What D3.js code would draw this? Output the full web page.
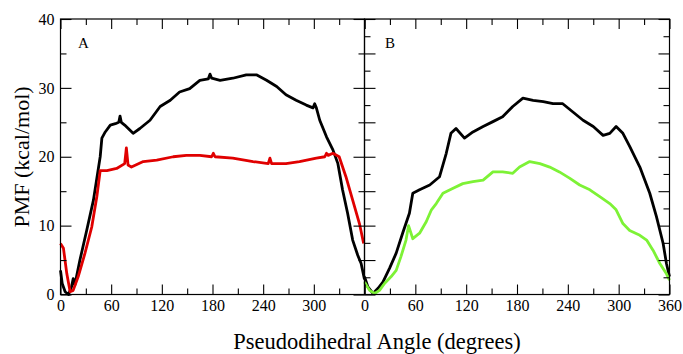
<!DOCTYPE html>
<html>
<head>
<meta charset="utf-8">
<script src="https://cdn.jsdelivr.net/npm/d3@7"></script>
<style>
  body { margin: 0; background: #fff; }
  svg { display: block; font-family: "Liberation Serif", "DejaVu Serif", serif; }
</style>
</head>
<body>
<div id="chart"></div>
<script>
// panel A, black curve
var angleA1 = [0, 2, 5.5, 9.5, 13, 15, 17, 23, 31, 39, 47, 49, 53, 59, 65, 69, 70.5, 72, 76, 86, 94, 106, 118, 130, 141, 153, 165, 175, 177, 179, 189, 204, 220, 232, 244, 256, 267, 279, 291, 299, 301, 303, 307, 315, 322.6, 328.5, 334, 340, 346, 352, 356, 360];
var pmfA1   = [3.5, 1.6, 0.4, 0, 1.1, 2.3, 1.4, 5, 9.3, 13.7, 20, 22.7, 23.6, 24.6, 24.8, 25, 25.9, 25, 24.6, 23.4, 24.1, 25.3, 27.3, 28.2, 29.4, 29.9, 31.1, 31.3, 32.0, 31.4, 31.1, 31.4, 31.9, 31.9, 31.1, 30.2, 29, 28.2, 27.5, 27.1, 27.7, 27.1, 25.3, 22.9, 21, 19, 15.2, 11.8, 7.9, 5.7, 4.5, 2.2];
// panel A, red curve
var angleA2 = [0, 3.5, 7.5, 11.4, 15, 21, 29, 37, 43, 47, 55, 66.5, 76, 78, 80, 84, 98, 114, 133.5, 149, 165, 179, 181, 183, 204, 228, 246, 248, 250, 267, 283, 303, 313, 315, 317, 322.6, 330, 338, 346, 354, 359];
var pmfA2   = [7.4, 6.7, 3, 0.4, 0.6, 2.6, 6, 9.8, 14.2, 18, 18, 18.3, 19, 21.3, 18.8, 18.5, 19.3, 19.5, 20, 20.2, 20.2, 20, 20.5, 20, 19.8, 19.3, 19, 19.8, 19, 19, 19.3, 19.8, 20, 20.5, 20.2, 20.5, 20, 17.1, 13.7, 10.3, 7.4];
// panel B, black curve
var angleB1 = [0, 4, 10, 16, 21.7, 29.5, 37.4, 45, 53, 57, 65, 77, 88.6, 96.5, 102, 108, 118, 128, 140, 151.6, 163, 175, 187, 199, 211, 222.5, 234, 246, 258, 270, 281.6, 289.5, 297, 305, 313, 325, 336.7, 344.6, 352.5, 356.4, 360];
var pmfB1   = [2.6, 1.1, 0.15, 0.9, 1.8, 3.8, 6, 8.9, 11.8, 14.7, 15.2, 15.9, 17.1, 20.5, 23.4, 24.1, 22.7, 23.6, 24.4, 25.1, 25.8, 27.3, 28.5, 28.2, 28, 27.7, 27.7, 26.5, 25.3, 24.4, 23.1, 23.4, 24.4, 23.4, 21.5, 18.5, 14.7, 11.3, 7.4, 4.5, 2.6];
// panel B, green curve
var angleB2 = [0, 6, 12, 17.7, 23.6, 31.5, 37.4, 43, 49, 52, 57, 65, 73, 79, 84.7, 92.6, 104, 116, 128, 140, 151.6, 163, 175, 183, 195, 207, 218.6, 230, 242, 254, 266, 277.7, 289.5, 297, 305, 313, 325, 333, 340.7, 348.6, 356.4, 360];
var pmfB2   = [1.8, 0.6, 0.15, 0.6, 1.6, 2.6, 3.5, 5.5, 7.9, 10.0, 8.1, 8.9, 10.6, 12.3, 13.2, 14.7, 15.4, 16.1, 16.4, 16.6, 17.8, 17.8, 17.6, 18.5, 19.3, 19, 18.5, 17.8, 16.9, 15.9, 15.2, 14.2, 13.2, 12.3, 10.3, 9.3, 8.6, 7.9, 6.4, 4.5, 3, 2.1];

var xTicksMajor = [0, 60, 120, 180, 240, 300, 360];
var xTicksMinor = [30, 90, 150, 210, 270, 330];
var yTicksA = [0, 10, 20, 30, 40];
var yTicksAMinor = [5, 15, 25, 35];
var yTicksB = [0, 5, 10, 15, 20, 25, 30, 35, 40];
var yTicksBMinor = [2.5, 7.5, 12.5, 17.5, 22.5, 27.5, 32.5, 37.5];

var width = 683, height = 354;
var plotTop = 19, plotBottom = 294.5;
var axL = 60.5, mid = 364.5, axR = 669.5;

var svg = d3.select("#chart").append("svg")
    .attr("width", width)
    .attr("height", height);

var y = d3.scaleLinear().domain([0, 40]).range([plotBottom, plotTop]);
var xA = d3.scaleLinear().domain([0, 360]).range([axL, mid]);
var xB = d3.scaleLinear().domain([0, 360]).range([mid, axR]);

function drawLine(x, ang, vals, color) {
  var pts = ang.map(function(a, i) { return [a, vals[i]]; });
  var line = d3.line().x(function(d) { return x(d[0]); }).y(function(d) { return y(d[1]); });
  svg.append("path")
    .datum(pts)
    .attr("d", line)
    .attr("fill", "none")
    .attr("stroke", color)
    .attr("stroke-width", 2.8)
    .attr("stroke-linejoin", "round");
}

drawLine(xA, angleA1, pmfA1, "#000");
drawLine(xA, angleA2, pmfA2, "#e00000");
drawLine(xB, angleB1, pmfB1, "#000");
drawLine(xB, angleB2, pmfB2, "#7df236");

// inward ticks, done with the axis generators
function noLabels(ax) { return ax.tickFormat(""); }

function panelAxes(x, yMajor, yMinor, showLast, leftLabels) {
  var x0 = x.range()[0], x1 = x.range()[1];
  var lab = showLast ? xTicksMajor : xTicksMajor.slice(0, -1);

  // bottom
  var gb = svg.append("g").attr("transform", "translate(0," + plotBottom + ")");
  gb.call(d3.axisBottom(x).tickValues(xTicksMajor).tickSizeInner(-10).tickSizeOuter(0)
      .tickPadding(5).tickFormat(function(d) { return lab.indexOf(d) >= 0 ? d : ""; }));
  gb.append("g").call(noLabels(d3.axisBottom(x).tickValues(xTicksMinor).tickSizeInner(-6).tickSizeOuter(0)));
  // top
  var gt = svg.append("g").attr("transform", "translate(0," + plotTop + ")");
  gt.call(noLabels(d3.axisTop(x).tickValues(xTicksMajor).tickSizeInner(-10).tickSizeOuter(0)));
  gt.append("g").call(noLabels(d3.axisTop(x).tickValues(xTicksMinor).tickSizeInner(-6).tickSizeOuter(0)));
  // left
  var gl = svg.append("g").attr("transform", "translate(" + x0 + ",0)");
  var la = d3.axisLeft(y).tickValues(yMajor).tickSizeInner(-11).tickSizeOuter(0).tickPadding(6);
  if (!leftLabels) la.tickFormat("");
  gl.call(la);
  gl.append("g").call(noLabels(d3.axisLeft(y).tickValues(yMinor).tickSizeInner(-6).tickSizeOuter(0)));
  // right
  var gr = svg.append("g").attr("transform", "translate(" + x1 + ",0)");
  gr.call(noLabels(d3.axisRight(y).tickValues(yMajor).tickSizeInner(-11).tickSizeOuter(0)));
  gr.append("g").call(noLabels(d3.axisRight(y).tickValues(yMinor).tickSizeInner(-6).tickSizeOuter(0)));

  svg.append("rect")
    .attr("x", x0).attr("y", plotTop)
    .attr("width", x1 - x0).attr("height", plotBottom - plotTop)
    .attr("fill", "none").attr("stroke", "#000").attr("stroke-width", 1.2);
}

panelAxes(xA, yTicksA, yTicksAMinor, false, true);
panelAxes(xB, yTicksB, yTicksBMinor, true, false);

svg.selectAll(".domain").remove();
svg.selectAll(".tick line").attr("stroke", "#000").attr("stroke-width", 1.1);
svg.selectAll(".tick text")
  .attr("fill", "#000")
  .style("font-family", "Liberation Serif, serif")
  .style("font-size", "16px");

svg.append("text").attr("x", 78).attr("y", 48).text("A")
  .style("font-size", "15px");
svg.append("text").attr("x", 385).attr("y", 48).text("B")
  .style("font-size", "15px");

svg.append("text")
  .attr("x", 377).attr("y", 349)
  .attr("text-anchor", "middle")
  .style("font-size", "22.5px")
  .text("Pseudodihedral Angle (degrees)");

svg.append("text")
  .attr("transform", "translate(29,157) rotate(-90)")
  .attr("text-anchor", "middle")
  .style("font-size", "22px")
  .text("PMF (kcal/mol)");
</script>
</body>
</html>
